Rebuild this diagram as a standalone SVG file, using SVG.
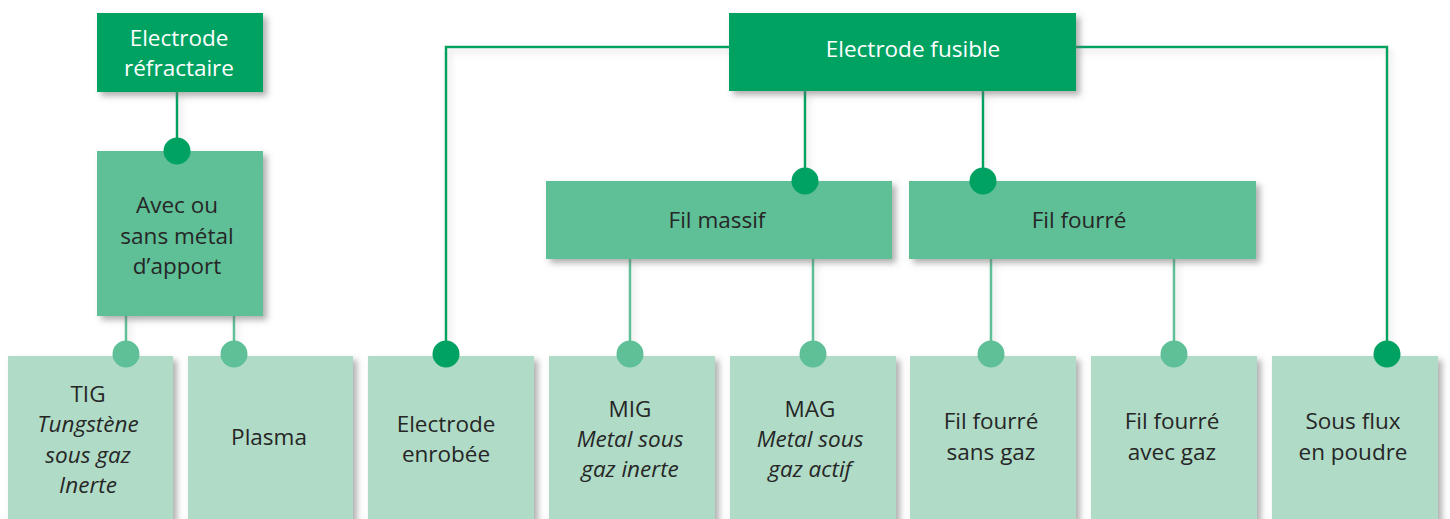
<svg xmlns="http://www.w3.org/2000/svg" width="1450" height="519" viewBox="0 0 1450 519">
<defs>
<filter id="sh" x="-10%" y="-10%" width="130%" height="140%">
<feDropShadow dx="4" dy="4" stdDeviation="3" flood-color="#6e6e6e" flood-opacity="0.55"/>
</filter>
<filter id="lsh" x="-5%" y="-5%" width="110%" height="110%">
<feDropShadow dx="3" dy="4" stdDeviation="3" flood-color="#9a9a9a" flood-opacity="0.35"/>
</filter>
</defs>
<style>
.dk{fill:#00a262}
.md{fill:#5fbf97}
.lt{fill:#b0dbc6}
.t{font-family:"Open Sans","Noto Sans",sans-serif;font-size:22.5px;text-anchor:middle;fill:#262626}
.w{fill:#ffffff}
.i{font-style:italic}
.ld{stroke:#00a262;stroke-width:2.5;fill:none}
.lm{stroke:#5fbf97;stroke-width:2.5;fill:none}
</style>
<rect width="1450" height="519" fill="#ffffff"/>

<g id="connectors">
<g filter="url(#lsh)">
<path class="ld" d="M177,92V151"/>
<path class="lm" d="M126,316V354M234,316V354"/>
<path class="ld" d="M729,47H446V354M1076,47H1387V354M805,91V181M983,91V181"/>
<path class="lm" d="M630,259V354M813,259V354M991,259V354M1174,259V354"/>
</g>
</g>

<g id="n-refractaire" filter="url(#sh)"><rect class="dk" x="97" y="13" width="166" height="79"/></g>
<g id="n-fusible" filter="url(#sh)"><rect class="dk" x="729" y="13" width="347" height="78"/></g>
<g id="n-avec" filter="url(#sh)"><rect class="md" x="97" y="151" width="166" height="165"/></g>
<g id="n-filmassif" filter="url(#sh)"><rect class="md" x="546" y="181" width="346" height="78"/></g>
<g id="n-filfourre" filter="url(#sh)"><rect class="md" x="909" y="181" width="347" height="78"/></g>
<g id="n-tig" filter="url(#sh)"><rect class="lt" x="8" y="356" width="165" height="170"/></g>
<g id="n-plasma" filter="url(#sh)"><rect class="lt" x="188" y="356" width="165" height="170"/></g>
<g id="n-enrobee" filter="url(#sh)"><rect class="lt" x="368" y="356" width="166" height="170"/></g>
<g id="n-mig" filter="url(#sh)"><rect class="lt" x="549" y="356" width="166" height="170"/></g>
<g id="n-mag" filter="url(#sh)"><rect class="lt" x="730" y="356" width="166" height="170"/></g>
<g id="n-ffsg" filter="url(#sh)"><rect class="lt" x="910" y="356" width="166" height="170"/></g>
<g id="n-ffag" filter="url(#sh)"><rect class="lt" x="1091" y="356" width="166" height="170"/></g>
<g id="n-sousflux" filter="url(#sh)"><rect class="lt" x="1272" y="356" width="166" height="170"/></g>

<g id="connector-dots">
<circle class="dk" cx="177" cy="151" r="13.5"/>
<circle class="md" cx="126" cy="354" r="13.5"/>
<circle class="md" cx="234" cy="354" r="13.5"/>
<circle class="dk" cx="446" cy="354" r="13.5"/>
<circle class="dk" cx="1387" cy="354" r="13.5"/>
<circle class="dk" cx="805" cy="181" r="13.5"/>
<circle class="dk" cx="983" cy="181" r="13.5"/>
<circle class="md" cx="630" cy="354" r="13.5"/>
<circle class="md" cx="813" cy="354" r="13.5"/>
<circle class="md" cx="991" cy="354" r="13.5"/>
<circle class="md" cx="1174" cy="354" r="13.5"/>
</g>

<g id="labels">
<text class="t w" x="179" y="46">Electrode</text>
<text class="t w" x="179" y="76">réfractaire</text>
<text class="t w" x="913" y="57">Electrode fusible</text>
<text class="t" x="177" y="213">Avec ou</text>
<text class="t" x="177" y="244">sans métal</text>
<text class="t" x="177" y="274">d’apport</text>
<text class="t" x="717" y="228">Fil massif</text>
<text class="t" x="1079" y="228">Fil fourré</text>
<text class="t" x="88" y="402">TIG</text>
<text class="t i" x="88" y="432">Tungstène</text>
<text class="t i" x="88" y="463">sous gaz</text>
<text class="t i" x="88" y="493">Inerte</text>
<text class="t" x="269" y="445">Plasma</text>
<text class="t" x="446" y="432">Electrode</text>
<text class="t" x="446" y="462">enrobée</text>
<text class="t" x="630" y="417">MIG</text>
<text class="t i" x="630" y="447">Metal sous</text>
<text class="t i" x="630" y="477">gaz inerte</text>
<text class="t" x="810" y="417">MAG</text>
<text class="t i" x="810" y="447">Metal sous</text>
<text class="t i" x="810" y="477">gaz actif</text>
<text class="t" x="991" y="429">Fil fourré</text>
<text class="t" x="991" y="460">sans gaz</text>
<text class="t" x="1172" y="429">Fil fourré</text>
<text class="t" x="1172" y="460">avec gaz</text>
<text class="t" x="1353" y="429">Sous flux</text>
<text class="t" x="1353" y="460">en poudre</text>
</g>
</svg>
